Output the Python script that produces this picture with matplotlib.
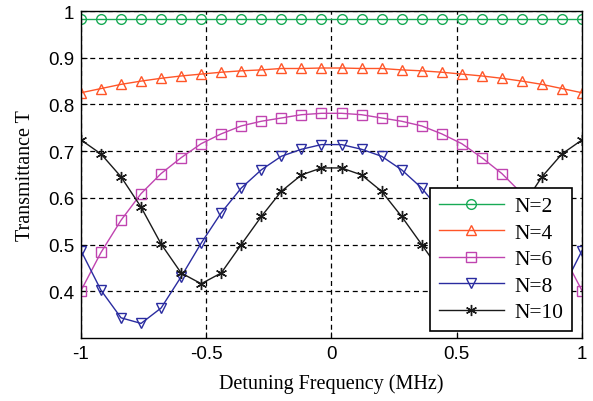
import numpy as np
import matplotlib
matplotlib.use("Agg")
import matplotlib.pyplot as plt

x = np.linspace(-1, 1, 26)

n2 = [0.983] * 26
n4 = [0.825, 0.834, 0.843, 0.850, 0.856, 0.861, 0.865, 0.869, 0.872, 0.874, 0.877, 0.877, 0.878,
      0.878, 0.877, 0.877, 0.874, 0.872, 0.869, 0.865, 0.861, 0.856, 0.850, 0.843, 0.834, 0.825]
n6 = [0.401, 0.483, 0.552, 0.609, 0.652, 0.686, 0.716, 0.737, 0.754, 0.764, 0.771, 0.778, 0.781,
      0.781, 0.778, 0.771, 0.764, 0.754, 0.737, 0.716, 0.686, 0.652, 0.609, 0.552, 0.483, 0.401]
n8 = [0.487, 0.402, 0.343, 0.331, 0.364, 0.431, 0.503, 0.568, 0.621, 0.660, 0.689, 0.704, 0.714,
      0.714, 0.704, 0.689, 0.660, 0.621, 0.568, 0.503, 0.431, 0.364, 0.331, 0.343, 0.402, 0.487]
n10 = [0.724, 0.694, 0.645, 0.580, 0.501, 0.439, 0.416, 0.439, 0.500, 0.560, 0.614, 0.649, 0.664,
       0.664, 0.649, 0.614, 0.560, 0.500, 0.439, 0.416, 0.439, 0.501, 0.580, 0.645, 0.694, 0.724]

labels = ["N=2", "N=4", "N=6", "N=8", "N=10"]
series = [n2, n4, n6, n8, n10]
colors = ["#18aa55", "#ff5528", "#c044b0", "#2a2ca0", "#1a1a1a"]
markers = ["o", "^", "s", "v", "*"]

fig = plt.figure(figsize=(5.93, 4.02), dpi=100)
ax = fig.add_axes([0.1365, 0.157, 0.845, 0.813])

for ys, lab, c, m in zip(series, labels, colors, markers):
    if m == "*":
        ax.plot(x, ys, color=c, lw=1.0, marker=(6, 2, 0), ms=8, mew=1.0, label=lab)
    else:
        ax.plot(x, ys, color=c, lw=1.0, marker=m, ms=7, mfc="none", mec=c, mew=1.0, label=lab)

ax.set_xlim(-1, 1)
ax.set_ylim(0.3, 1.0)
ax.set_xticks([-1, -0.5, 0, 0.5, 1])
ax.set_xticklabels(["-1", "-0.5", "0", "0.5", "1"])
ax.set_yticks([0.4, 0.5, 0.6, 0.7, 0.8, 0.9, 1.0])
ax.set_yticklabels(["0.4", "0.5", "0.6", "0.7", "0.8", "0.9", "1"])
for lab in ax.get_xticklabels() + ax.get_yticklabels():
    lab.set_fontfamily("Liberation Sans")
    lab.set_fontsize(13.5)
ax.tick_params(direction="in", length=4, width=0.8, pad=5)
ax.grid(True, color="black", linestyle=(0, (4, 3)), linewidth=0.9)
for s in ax.spines.values():
    s.set_linewidth(1.0)

ax.set_xlabel("Detuning Frequency (MHz)", family="Liberation Serif", fontsize=14.5, labelpad=8)
ax.set_ylabel("Transmittance T", family="Liberation Serif", fontsize=14.5, labelpad=9)

leg = ax.legend(loc="lower right", bbox_to_anchor=(0.98, 0.021), borderaxespad=0,
                prop={"family": "Liberation Serif", "size": 15.5},
                frameon=True, fancybox=False, edgecolor="black", framealpha=1, handlelength=3.0,
                labelspacing=0.3, borderpad=0.4, handletextpad=0.5)
leg.get_frame().set_linewidth(1.2)

fig.savefig("out.png", dpi=100)
